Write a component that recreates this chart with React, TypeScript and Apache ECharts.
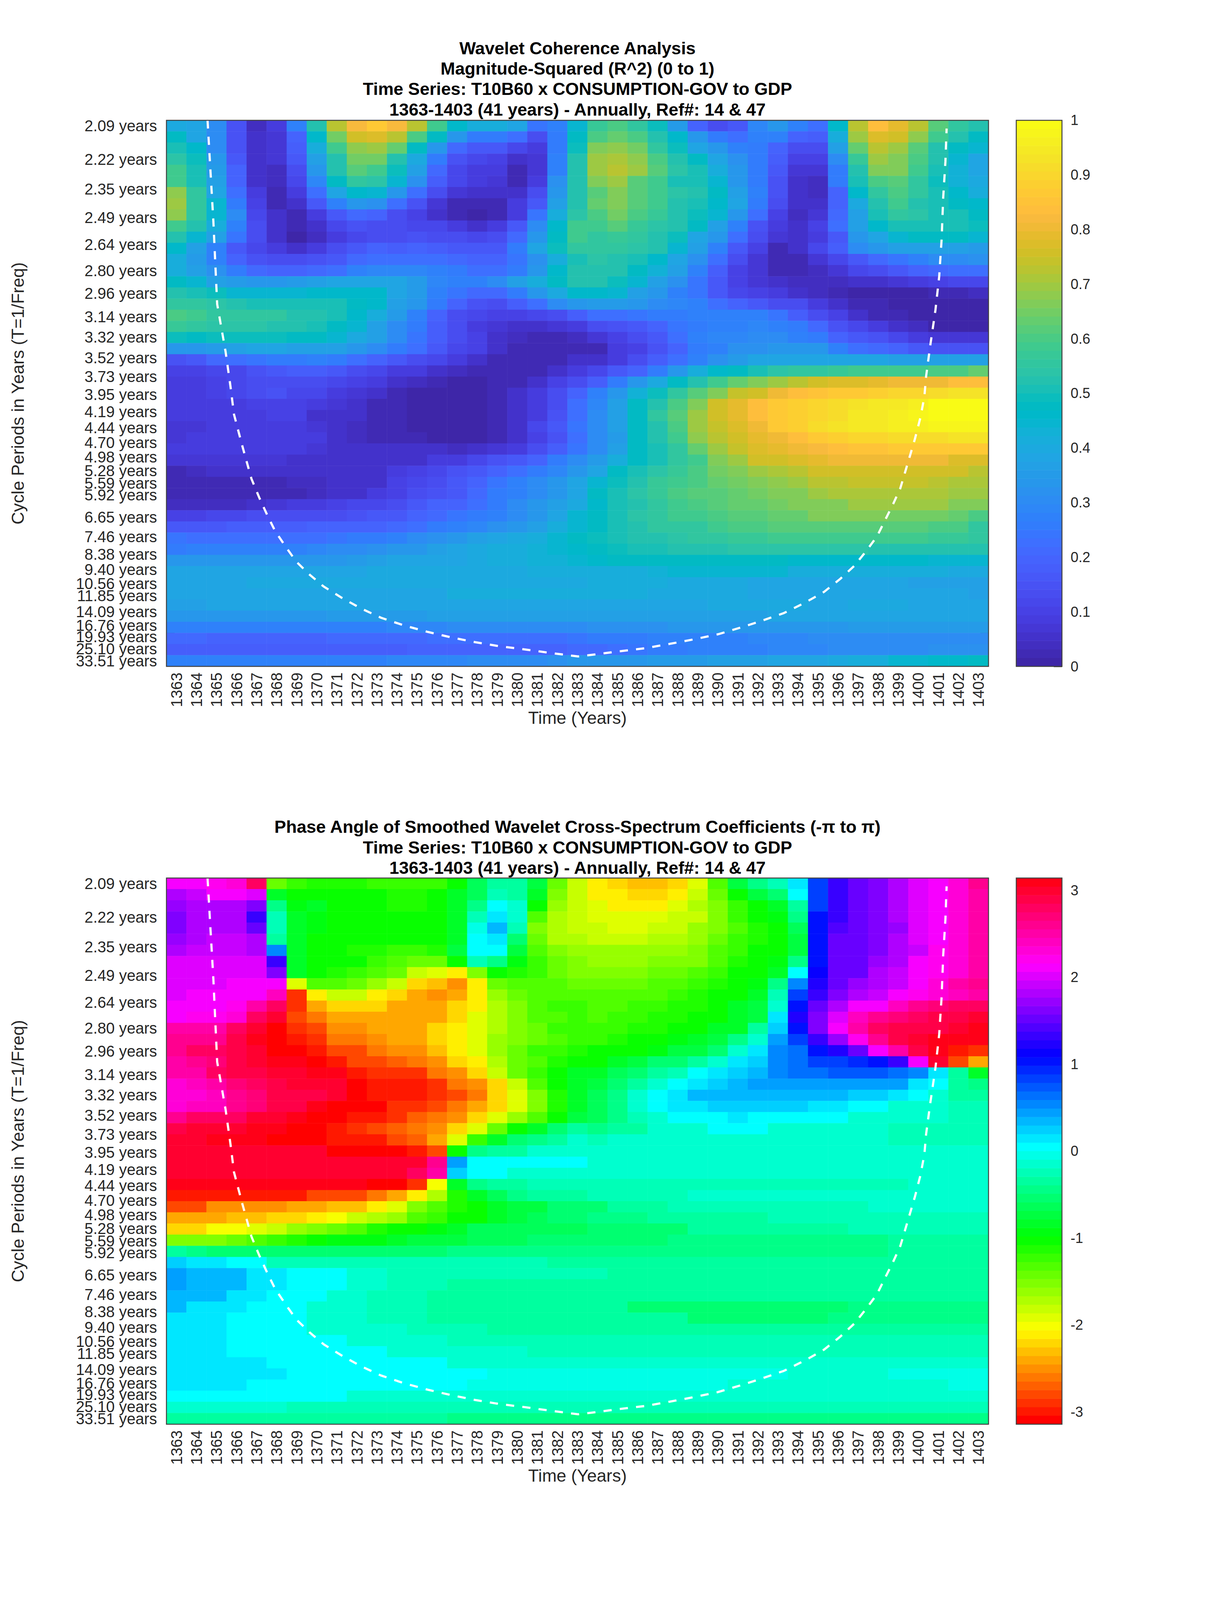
import React, { useEffect, useRef } from "react";
import * as echarts from "echarts";

const years = [1363,1364,1365,1366,1367,1368,1369,1370,1371,1372,1373,1374,1375,1376,1377,1378,1379,1380,1381,1382,1383,1384,1385,1386,1387,1388,1389,1390,1391,1392,1393,1394,1395,1396,1397,1398,1399,1400,1401,1402,1403].map(String);
const labelledPeriods = [2.09,2.22,2.35,2.49,2.64,2.80,2.96,3.14,3.32,3.52,3.73,3.95,4.19,4.44,4.70,4.98,5.28,5.59,5.92,6.65,7.46,8.38,9.40,10.56,11.85,14.09,16.76,19.93,25.10,33.51];
const unlabelledPeriods = [6.27,7.05,7.91,8.88,9.96,11.19,12.55,13.30,14.93,15.82,17.76,18.81,21.10,22.37,23.70,26.60,28.18,29.85,31.60];
const coherenceTicks = [0,0.1,0.2,0.3,0.4,0.5,0.6,0.7,0.8,0.9,1];
const phaseTicks = [-3,-2,-1,0,1,2,3];

const coneYears = [1364.55,1364.84,1365.03,1365.45,1365.69,1365.87,1366.29,1366.74,1367.13,1367.53,1367.92,1368.45,1368.97,1369.64,1370.34,1371.25,1372.2,1373.2,1374.35,1375.54,1376.71,1377.9,1379.07,1380.4,1381.7,1383.03,1383.94,1385.1,1386.4,1387.6,1388.8,1390,1391.15,1392.2,1393.3,1394.36,1395.3,1396.1,1396.8,1397.4,1397.94,1398.33,1398.72,1399.1,1399.35,1399.6,1399.83,1400.1,1400.3,1400.39,1400.6,1400.85,1401.04,1401.16,1401.24,1401.35,1401.41];
const conePeriods = [2.07,2.51,3.04,3.46,3.84,4.23,4.77,5.48,6.0,6.58,7.21,7.97,8.84,9.79,10.85,12.1,13.55,15.15,16.8,18.5,20.2,22.0,23.7,25.4,27.5,29.85,28.3,26.4,24.7,22.7,20.9,19.2,17.3,15.75,14.3,12.7,11.4,10.15,9.14,8.2,7.45,6.78,6.23,5.73,5.3,4.93,4.63,4.28,3.98,3.72,3.39,3.09,2.84,2.61,2.39,2.23,2.10];

const coherenceRows: number[][] = [
[.40,.38,.30,.15,.04,.08,.27,.53,.72,.82,.86,.82,.72,.58,.46,.41,.41,.38,.24,.27,.45,.57,.60,.56,.49,.35,.19,.14,.16,.29,.34,.28,.22,.46,.72,.83,.79,.72,.62,.56,.53],
[.47,.39,.30,.15,.05,.07,.20,.46,.65,.75,.78,.72,.60,.47,.33,.25,.25,.22,.14,.26,.47,.60,.63,.60,.52,.46,.33,.26,.22,.27,.27,.20,.18,.42,.69,.77,.75,.68,.58,.53,.47],
[.51,.46,.31,.15,.05,.07,.18,.41,.58,.68,.70,.63,.48,.33,.21,.16,.16,.12,.09,.25,.49,.66,.68,.65,.56,.49,.38,.33,.28,.26,.20,.14,.14,.36,.63,.72,.70,.62,.52,.48,.44],
[.54,.49,.34,.17,.06,.07,.16,.36,.52,.65,.65,.53,.40,.25,.15,.12,.10,.05,.07,.27,.52,.70,.71,.68,.60,.52,.47,.39,.32,.26,.18,.10,.10,.31,.57,.69,.66,.60,.53,.45,.38],
[.58,.50,.35,.19,.06,.04,.13,.33,.52,.61,.58,.49,.36,.21,.12,.09,.08,.03,.07,.28,.53,.70,.72,.69,.62,.54,.50,.42,.34,.26,.17,.07,.07,.26,.53,.66,.67,.58,.50,.43,.39],
[.58,.50,.36,.19,.06,.04,.12,.29,.47,.55,.54,.45,.32,.18,.11,.08,.07,.03,.08,.32,.53,.66,.69,.62,.59,.51,.50,.45,.33,.26,.15,.06,.04,.25,.50,.60,.62,.55,.49,.43,.40],
[.68,.55,.39,.23,.09,.03,.08,.23,.38,.46,.45,.34,.22,.13,.07,.05,.05,.05,.14,.34,.53,.61,.67,.61,.58,.54,.53,.47,.37,.28,.15,.06,.04,.20,.46,.55,.60,.55,.50,.46,.41],
[.70,.55,.44,.26,.10,.03,.05,.16,.28,.34,.32,.23,.15,.07,.03,.02,.03,.08,.17,.36,.53,.63,.66,.62,.58,.53,.51,.46,.39,.26,.13,.05,.05,.19,.40,.53,.58,.53,.50,.47,.46],
[.68,.56,.45,.30,.11,.05,.03,.08,.16,.21,.19,.14,.10,.05,.03,.01,.03,.09,.24,.42,.54,.60,.65,.60,.57,.53,.49,.44,.34,.22,.10,.04,.07,.21,.37,.50,.55,.54,.50,.50,.48],
[.58,.52,.41,.27,.14,.05,.02,.06,.12,.15,.14,.13,.12,.12,.09,.06,.08,.16,.31,.46,.58,.58,.62,.57,.54,.52,.48,.37,.27,.15,.08,.05,.10,.22,.36,.46,.51,.51,.50,.50,.49],
[.52,.44,.36,.24,.13,.05,.01,.04,.09,.12,.13,.14,.15,.14,.13,.12,.13,.21,.34,.48,.58,.56,.57,.56,.53,.49,.39,.33,.22,.14,.07,.05,.09,.17,.34,.39,.45,.47,.47,.47,.45],
[.46,.36,.28,.16,.12,.09,.06,.08,.13,.16,.19,.18,.19,.18,.17,.17,.17,.26,.38,.49,.55,.56,.56,.54,.52,.45,.36,.27,.17,.10,.03,.06,.12,.18,.30,.34,.36,.37,.37,.37,.35],
[.41,.35,.28,.20,.15,.13,.13,.15,.17,.21,.22,.23,.23,.22,.21,.20,.19,.24,.32,.41,.50,.54,.52,.50,.46,.39,.32,.22,.13,.07,.03,.03,.07,.12,.16,.21,.24,.27,.30,.30,.32],
[.42,.36,.32,.26,.21,.20,.19,.21,.23,.27,.29,.29,.29,.28,.25,.23,.22,.25,.34,.46,.52,.52,.52,.48,.43,.36,.28,.18,.10,.07,.03,.03,.04,.07,.11,.13,.16,.19,.21,.22,.23],
[.47,.44,.37,.35,.33,.33,.35,.37,.38,.39,.39,.39,.35,.29,.27,.27,.31,.37,.42,.48,.52,.52,.49,.45,.36,.32,.24,.16,.10,.07,.05,.04,.04,.04,.05,.06,.07,.09,.10,.11,.12],
[.52,.50,.49,.45,.45,.45,.45,.46,.46,.46,.46,.39,.35,.28,.24,.21,.21,.25,.33,.40,.46,.46,.45,.37,.34,.28,.24,.17,.12,.10,.08,.05,.04,.03,.01,.01,.01,.01,.02,.03,.04],
[.56,.55,.54,.52,.51,.51,.51,.51,.50,.48,.46,.37,.33,.26,.19,.15,.14,.18,.22,.30,.34,.35,.35,.33,.31,.29,.27,.23,.20,.17,.14,.13,.08,.06,.03,.02,.00,.00,.00,.00,.00],
[.60,.58,.56,.55,.55,.55,.53,.53,.50,.46,.41,.35,.27,.20,.14,.12,.10,.10,.12,.14,.18,.22,.23,.24,.26,.26,.27,.28,.28,.27,.24,.18,.13,.10,.06,.03,.02,.00,.00,.00,.00],
[.57,.55,.54,.54,.54,.52,.52,.51,.48,.44,.37,.31,.25,.18,.14,.09,.07,.05,.05,.07,.09,.13,.15,.17,.20,.24,.26,.27,.28,.29,.28,.25,.21,.15,.11,.08,.05,.04,.01,.01,.01],
[.49,.47,.49,.49,.49,.49,.48,.47,.44,.40,.37,.30,.24,.18,.13,.10,.06,.04,.02,.02,.04,.07,.10,.13,.17,.23,.27,.29,.29,.31,.30,.27,.26,.20,.17,.15,.12,.09,.07,.07,.07],
[.33,.34,.35,.37,.38,.38,.37,.37,.36,.33,.30,.26,.22,.17,.11,.10,.05,.03,.02,.02,.02,.03,.08,.10,.15,.20,.26,.28,.32,.32,.33,.33,.33,.27,.23,.21,.19,.17,.15,.15,.15],
[.15,.17,.21,.22,.24,.25,.26,.27,.25,.22,.19,.16,.14,.11,.09,.05,.03,.02,.02,.02,.05,.06,.09,.13,.18,.23,.28,.32,.35,.38,.39,.39,.39,.39,.39,.38,.37,.36,.36,.36,.36],
[.10,.10,.11,.12,.15,.17,.18,.18,.16,.14,.11,.08,.08,.05,.04,.02,.02,.02,.02,.06,.08,.11,.16,.19,.26,.34,.41,.46,.47,.51,.54,.55,.55,.57,.58,.58,.58,.58,.60,.60,.63],
[.09,.09,.10,.11,.13,.13,.13,.13,.11,.10,.08,.05,.04,.03,.01,.01,.02,.03,.06,.10,.14,.18,.26,.33,.40,.47,.53,.58,.63,.66,.69,.73,.75,.77,.78,.79,.80,.80,.81,.83,.83],
[.09,.09,.10,.11,.14,.15,.12,.12,.09,.07,.05,.03,.01,.01,.01,.01,.03,.06,.09,.14,.20,.28,.33,.43,.49,.55,.62,.67,.74,.76,.80,.83,.85,.86,.87,.88,.90,.90,.91,.93,.93],
[.08,.08,.08,.08,.10,.10,.10,.09,.07,.05,.03,.03,.01,.01,.01,.01,.02,.05,.09,.14,.23,.29,.37,.47,.52,.60,.66,.76,.79,.83,.86,.89,.90,.92,.93,.94,.95,.96,.99,.99,.99],
[.08,.08,.08,.08,.08,.10,.10,.06,.06,.05,.03,.02,.01,.01,.01,.01,.02,.05,.09,.15,.23,.30,.36,.47,.55,.62,.69,.76,.79,.83,.86,.89,.90,.92,.94,.95,.96,.97,1,1,1],
[.07,.07,.09,.09,.09,.09,.08,.07,.06,.04,.03,.02,.01,.01,.01,.01,.03,.06,.11,.16,.24,.30,.37,.47,.53,.60,.69,.74,.78,.80,.86,.89,.91,.93,.94,.95,.96,.96,.98,.98,.98],
[.07,.08,.08,.09,.09,.09,.09,.08,.06,.04,.03,.03,.02,.01,.01,.01,.03,.06,.10,.15,.22,.30,.35,.47,.52,.59,.68,.72,.76,.79,.81,.83,.87,.88,.90,.90,.91,.91,.92,.93,.93],
[.08,.08,.09,.09,.09,.09,.09,.07,.06,.05,.05,.05,.05,.05,.04,.05,.07,.09,.14,.18,.24,.30,.37,.47,.51,.56,.64,.69,.74,.78,.79,.80,.82,.84,.85,.85,.86,.86,.86,.86,.86],
[.07,.07,.07,.07,.07,.07,.06,.05,.05,.05,.05,.05,.05,.08,.09,.11,.15,.17,.20,.25,.30,.35,.41,.47,.50,.55,.59,.67,.70,.75,.75,.78,.79,.81,.81,.81,.80,.80,.80,.78,.78],
[.03,.04,.05,.05,.05,.05,.05,.05,.05,.05,.05,.08,.10,.12,.15,.17,.20,.22,.26,.29,.33,.38,.47,.50,.54,.57,.60,.65,.66,.69,.71,.72,.76,.76,.76,.76,.76,.75,.75,.75,.72],
[.02,.02,.02,.02,.02,.02,.04,.04,.05,.05,.06,.10,.12,.14,.17,.20,.24,.27,.30,.33,.38,.45,.49,.53,.57,.58,.60,.64,.65,.66,.68,.70,.73,.73,.74,.74,.74,.74,.72,.71,.71],
[.02,.02,.02,.02,.02,.03,.03,.04,.05,.06,.08,.10,.13,.15,.17,.21,.25,.27,.30,.34,.39,.47,.50,.54,.57,.60,.62,.62,.63,.65,.66,.67,.69,.71,.71,.71,.71,.71,.71,.69,.69],
[.04,.04,.04,.04,.05,.07,.08,.09,.10,.11,.12,.14,.17,.19,.19,.23,.25,.30,.33,.37,.40,.46,.50,.53,.55,.58,.60,.62,.63,.64,.65,.66,.67,.67,.69,.69,.69,.69,.69,.67,.67],
[.10,.10,.12,.12,.13,.13,.14,.14,.14,.15,.16,.17,.19,.21,.24,.26,.28,.30,.33,.38,.44,.47,.51,.54,.56,.58,.58,.60,.62,.62,.64,.64,.66,.66,.66,.66,.65,.65,.65,.64,.60],
[.17,.17,.17,.18,.18,.18,.18,.19,.19,.19,.20,.21,.22,.25,.27,.29,.32,.34,.37,.41,.44,.48,.50,.53,.55,.56,.56,.58,.60,.60,.61,.61,.62,.62,.62,.62,.62,.61,.60,.60,.56],
[.24,.22,.23,.23,.23,.23,.23,.23,.24,.25,.26,.28,.30,.32,.33,.36,.38,.40,.42,.44,.47,.49,.51,.52,.53,.54,.55,.56,.57,.57,.58,.58,.58,.58,.58,.58,.58,.58,.57,.57,.55],
[.26,.28,.28,.28,.28,.28,.28,.29,.30,.31,.32,.33,.34,.36,.38,.40,.41,.42,.43,.44,.46,.47,.49,.50,.51,.52,.52,.53,.54,.54,.54,.54,.54,.54,.54,.53,.53,.53,.52,.52,.52],
[.33,.33,.33,.33,.33,.33,.33,.34,.34,.35,.36,.38,.38,.39,.39,.40,.41,.42,.43,.43,.45,.46,.47,.47,.47,.47,.47,.47,.47,.47,.47,.46,.46,.46,.46,.46,.46,.46,.45,.45,.45],
[.39,.39,.39,.39,.39,.39,.39,.39,.39,.39,.40,.40,.40,.40,.40,.40,.40,.40,.41,.42,.42,.42,.42,.42,.43,.44,.44,.44,.44,.44,.44,.42,.42,.41,.41,.41,.41,.41,.41,.40,.40],
[.39,.39,.39,.39,.40,.40,.40,.40,.40,.40,.40,.40,.40,.40,.40,.40,.40,.40,.40,.40,.40,.41,.41,.41,.41,.40,.40,.40,.40,.39,.39,.39,.39,.38,.38,.38,.38,.37,.36,.36,.37],
[.38,.38,.38,.39,.39,.39,.39,.39,.39,.39,.39,.39,.39,.39,.41,.41,.41,.41,.41,.41,.41,.41,.41,.41,.40,.40,.40,.40,.40,.39,.39,.39,.39,.39,.39,.38,.38,.38,.38,.38,.36],
[.37,.37,.38,.38,.38,.38,.38,.38,.38,.38,.38,.38,.38,.38,.39,.39,.39,.39,.39,.39,.39,.39,.39,.39,.39,.39,.39,.40,.40,.40,.40,.40,.39,.39,.40,.40,.40,.39,.39,.39,.39],
[.34,.34,.34,.34,.34,.34,.34,.34,.35,.35,.35,.35,.35,.36,.36,.36,.36,.36,.36,.36,.36,.36,.36,.36,.37,.37,.37,.37,.37,.37,.38,.38,.38,.38,.38,.38,.38,.39,.38,.38,.38],
[.28,.28,.28,.28,.28,.28,.28,.28,.28,.28,.28,.29,.29,.29,.30,.30,.30,.30,.31,.31,.31,.32,.32,.32,.32,.33,.33,.33,.33,.34,.34,.34,.34,.34,.35,.35,.35,.35,.35,.35,.35],
[.21,.21,.19,.19,.19,.19,.19,.19,.21,.21,.21,.21,.21,.22,.22,.22,.22,.23,.23,.23,.24,.25,.25,.26,.27,.27,.27,.28,.28,.29,.29,.29,.30,.30,.30,.30,.31,.31,.31,.31,.31],
[.18,.18,.18,.18,.18,.18,.18,.18,.18,.18,.18,.18,.19,.19,.19,.19,.19,.19,.20,.20,.21,.21,.23,.24,.25,.26,.27,.27,.28,.28,.29,.29,.29,.30,.30,.30,.30,.31,.32,.32,.32],
[.27,.27,.27,.27,.28,.28,.28,.28,.28,.28,.28,.29,.29,.29,.29,.30,.30,.30,.30,.32,.33,.33,.33,.34,.35,.35,.35,.36,.37,.37,.38,.38,.39,.40,.41,.42,.44,.45,.46,.46,.47],
];

const phaseUpperRows: number[][] = [
[2.09,2.09,2.25,2.35,2.75,-1.45,-1.2,-1.1,-1.1,-1.15,-1.2,-1.2,-1.2,-1.2,-1.0,-.6,-.35,-.35,-.7,-1.45,-1.83,-2.09,-2.2,-2.3,-2.3,-2.18,-1.95,-1.3,-.75,-.45,-.25,.13,.8,1.3,1.5,1.65,1.8,2.0,2.15,2.35,2.6],
[1.85,1.95,2.09,2.09,1.97,-.85,-1.05,-1.05,-1.05,-1.05,-1.05,-1.15,-1.15,-1.05,-.85,-.6,-.28,-.3,-.8,-1.5,-1.85,-2.09,-2.09,-2.2,-2.2,-2.09,-1.85,-1.4,-1.05,-.75,-.52,0,.8,1.3,1.5,1.65,1.8,2.0,2.15,2.35,2.55],
[1.7,1.85,1.85,1.85,1.6,-.45,-.9,-.85,-1.05,-1.05,-1.05,-1.08,-1.15,-1.05,-.8,-.45,0,-.1,-1.05,-1.65,-1.85,-1.95,-2.09,-2.09,-2.09,-1.95,-1.75,-1.55,-1.2,-1.05,-.8,-.3,.8,1.3,1.5,1.65,1.8,2.0,2.15,2.35,2.55],
[1.65,1.85,1.85,1.85,1.35,-.2,-.8,-.9,-1.03,-1.03,-1.05,-1.05,-1.05,-1.05,-.8,-.25,.18,-.1,-1.3,-1.75,-1.85,-1.95,-1.95,-1.95,-1.95,-1.85,-1.8,-1.55,-1.25,-1.05,-.9,-.45,1.0,1.3,1.5,1.65,1.8,2.0,2.15,2.35,2.55],
[1.65,1.85,1.85,1.85,1.55,-.2,-.8,-.9,-1.03,-1.03,-1.05,-1.05,-1.05,-1.05,-.8,-.05,.3,-.2,-1.55,-1.75,-1.85,-1.85,-1.95,-1.95,-1.85,-1.8,-1.6,-1.5,-1.3,-1.15,-1.03,-.6,1.05,1.4,1.5,1.65,1.75,2.0,2.15,2.35,2.55],
[1.75,1.8,1.95,1.95,1.8,-.35,-.85,-1.0,-1.05,-1.07,-1.07,-1.05,-1.05,-1.05,-.8,0,.18,-.55,-1.45,-1.75,-1.75,-1.8,-1.8,-1.8,-1.7,-1.7,-1.6,-1.4,-1.25,-1.15,-1.05,-.7,1.05,1.5,1.55,1.65,1.8,2.0,2.15,2.35,2.55],
[1.8,1.95,1.95,1.95,1.85,.55,-.85,-1.05,-1.05,-1.1,-1.1,-1.2,-1.2,-1.1,-.75,0,0,-.75,-1.35,-1.55,-1.65,-1.65,-1.65,-1.65,-1.6,-1.6,-1.55,-1.35,-1.25,-1.05,-1.05,-.75,1.05,1.5,1.55,1.65,1.8,1.95,2.2,2.35,2.55],
[2.0,2.0,2.0,2.0,2.0,1.35,-.85,-1.05,-1.07,-1.07,-1.2,-1.3,-1.4,-1.4,-1.07,-.25,-.4,-.9,-1.25,-1.4,-1.55,-1.6,-1.6,-1.6,-1.55,-1.55,-1.5,-1.3,-1.15,-1.05,-.9,-.4,1.05,1.5,1.55,1.7,1.8,2.09,2.2,2.3,2.55],
[2.0,2.0,2.0,2.0,2.0,1.6,-.85,-1.05,-1.15,-1.25,-1.35,-1.45,-1.8,-1.95,-2.15,-1.5,-1.05,-1.1,-1.2,-1.4,-1.5,-1.5,-1.5,-1.5,-1.4,-1.4,-1.35,-1.2,-1.05,-1.05,-.8,.08,1.15,1.5,1.55,1.85,1.95,2.09,2.25,2.35,2.55],
[2.0,2.0,2.0,2.09,2.09,2.09,-1.95,-1.35,-1.35,-1.45,-1.65,-1.85,-2.18,-2.35,-2.5,-2.09,-1.45,-1.35,-1.35,-1.32,-1.42,-1.4,-1.4,-1.4,-1.3,-1.3,-1.2,-1.1,-1.05,-.9,-.45,.5,1.25,1.5,1.7,1.85,1.95,2.12,2.3,2.5,2.6],
[2.0,2.09,2.09,2.09,2.09,2.4,-2.9,-2.09,-1.85,-1.85,-2.09,-2.18,-2.36,-2.5,-2.36,-2.09,-1.6,-1.4,-1.35,-1.3,-1.3,-1.3,-1.3,-1.3,-1.3,-1.2,-1.1,-1.05,-1.05,-.85,-.25,.8,1.35,1.6,1.85,1.95,2.09,2.25,2.35,2.45,2.55],
[2.09,2.09,2.12,2.25,2.5,2.8,-2.9,-2.45,-2.25,-2.25,-2.25,-2.36,-2.36,-2.36,-2.25,-2.09,-1.7,-1.5,-1.35,-1.25,-1.25,-1.3,-1.3,-1.2,-1.2,-1.12,-1.1,-1.05,-.85,-.7,-.1,1.0,1.5,1.85,2.09,2.15,2.45,2.6,2.7,2.8,2.75],
[2.09,2.2,2.25,2.35,2.8,3.0,-2.8,-2.6,-2.45,-2.36,-2.36,-2.36,-2.36,-2.36,-2.18,-1.95,-1.7,-1.5,-1.35,-1.35,-1.25,-1.3,-1.2,-1.2,-1.1,-1.1,-1.05,-1.05,-.85,-.7,.1,1.2,1.6,2.0,2.4,2.6,2.7,2.8,2.85,2.85,2.95],
[2.5,2.55,2.55,2.8,3.0,-3.14,-2.85,-2.75,-2.55,-2.55,-2.45,-2.45,-2.36,-2.2,-2.12,-1.95,-1.7,-1.5,-1.4,-1.25,-1.25,-1.2,-1.2,-1.1,-1.1,-1.05,-1.05,-.85,-.8,-.3,.25,1.05,1.6,2.09,2.5,2.75,2.85,2.85,2.85,2.95,3.05],
[2.6,2.65,2.65,2.85,3.05,-3.14,-2.95,-2.85,-2.6,-2.6,-2.5,-2.4,-2.4,-2.25,-2.12,-1.95,-1.6,-1.5,-1.4,-1.3,-1.2,-1.2,-1.15,-1.05,-1.05,-.95,-.85,-.7,-.4,-.1,.4,.8,1.3,1.75,2.2,2.6,2.85,2.95,3.1,3.14,3.14],
[2.65,2.75,2.8,2.9,3.0,-3.14,-3.05,-2.95,-2.8,-2.75,-2.6,-2.5,-2.5,-2.35,-2.12,-1.95,-1.6,-1.4,-1.25,-1.2,-1.1,-1.07,-1.07,-1.07,-.95,-.75,-.7,-.5,-.1,.1,.5,.65,1.0,1.2,1.5,2.1,2.55,2.9,3.1,-3.0,-2.9],
[2.55,2.65,2.7,2.9,2.95,3.05,3.14,-3.05,-2.95,-2.8,-2.8,-2.7,-2.6,-2.5,-2.2,-2.09,-1.75,-1.4,-1.3,-1.15,-1.05,-1.05,-.85,-.7,-.55,-.5,-.3,-.1,.1,.2,.5,.6,.85,.8,.9,1.05,1.35,2.09,3.0,-2.8,-2.45],
[2.5,2.55,2.75,2.85,2.9,2.95,3.0,3.14,3.14,-3.0,-2.9,-2.9,-2.85,-2.65,-2.5,-2.2,-1.85,-1.45,-1.2,-1.0,-.85,-.85,-.65,-.55,-.35,-.25,0,.1,.25,.35,.5,.6,.6,.7,.7,.7,.6,.5,.1,-.35,-.8],
[2.35,2.4,2.5,2.7,2.8,2.9,2.95,3.0,3.0,-3.14,-3.0,-3.0,-2.95,-2.85,-2.65,-2.5,-2.18,-1.8,-1.3,-1.0,-.8,-.7,-.5,-.35,-.15,0,.1,.2,.35,.45,.45,.45,.45,.45,.45,.4,.4,.1,0,-.3,-.4],
[2.3,2.35,2.45,2.6,2.7,2.85,2.88,2.9,3.0,-3.14,-3.0,-3.0,-2.95,-2.85,-2.75,-2.6,-2.25,-1.95,-1.5,-1.1,-.8,-.65,-.4,-.1,0,.15,.35,.35,.35,.35,.35,.35,.35,.35,.25,.25,.12,0,-.15,-.3,-.3],
[2.35,2.4,2.45,2.6,2.7,2.9,2.9,3.05,-3.14,-3.14,-3.05,-2.9,-2.85,-2.75,-2.6,-2.45,-2.2,-1.95,-1.55,-1.1,-.8,-.6,-.4,-.1,0,.15,.15,.25,.25,.25,.25,.25,.12,.12,0,0,-.1,-.15,-.15,-.25,-.25],
[2.65,2.75,2.8,2.8,2.95,2.95,3.05,-3.14,-3.14,-3.0,-2.95,-2.85,-2.7,-2.6,-2.5,-2.25,-1.95,-1.65,-1.3,-1.05,-.75,-.6,-.4,-.25,-.1,0,0,0,.1,0,0,0,0,0,-.1,-.1,-.1,-.15,-.15,-.2,-.2],
[2.85,2.95,3.0,3.0,3.05,3.1,-3.14,-3.14,-3.0,-2.9,-2.8,-2.7,-2.6,-2.5,-2.25,-1.95,-1.45,-1.05,-.8,-.5,-.3,-.4,-.3,-.3,-.12,-.12,-.12,0,0,0,-.1,-.1,-.1,-.1,-.1,-.1,-.2,-.2,-.2,-.2,-.2],
];

// Lower phase rows as [last column of the run, value] pairs.
const phaseLowerRuns: number[][][] = [
[[1,3.0],[4,3.1],[7,-3.14],[9,-3.0],[10,-2.95],[11,-2.8],[12,-2.7],[13,-2.45],[14,-1.95],[15,-1.25],[16,-.85],[17,-.55],[18,-.4],[19,-.3],[20,-.12],[21,-.2],[35,-.1],[40,-.2]],
[[7,3.0],[10,-3.14],[11,-3.05],[12,-2.95],[13,-2.75],[14,-1.05],[15,-.45],[17,-.3],[40,-.13]],
[[1,3.0],[12,2.95],[13,2.6],[14,.42],[20,0],[40,-.1]],
[[1,3.0],[11,2.95],[12,2.8],[13,2.55],[14,.25],[16,0],[40,-.1]],
[[9,3.14],[11,-3.05],[12,-2.85],[13,-2.05],[14,-.8],[15,-.45],[17,-.3],[36,-.2],[40,-.1]],
[[6,-2.95],[8,-2.8],[9,-2.75],[10,-2.6],[11,-2.45],[12,-2.15],[13,-1.75],[14,-1.1],[15,-.8],[16,-.6],[17,-.45],[20,-.35],[25,-.25],[40,-.13]],
[[1,-2.75],[5,-2.55],[7,-2.45],[8,-2.35],[9,-2.3],[10,-2.1],[11,-1.9],[12,-1.5],[13,-1.35],[14,-1.15],[15,-1.05],[16,-.85],[17,-.75],[18,-.7],[21,-.5],[24,-.35],[34,-.25],[40,-.18]],
[[2,-2.45],[4,-2.3],[6,-2.2],[7,-2.1],[8,-2.05],[9,-1.85],[10,-1.75],[11,-1.6],[12,-1.35],[13,-1.2],[14,-1.05],[15,-1.0],[16,-.85],[17,-.7],[18,-.65],[20,-.55],[23,-.42],[29,-.33],[40,-.25]],
[[1,-2.2],[3,-2.05],[4,-1.9],[5,-1.8],[6,-1.65],[7,-1.55],[8,-1.4],[9,-1.3],[10,-1.15],[11,-1.05],[12,-1.03],[13,-.95],[14,-.8],[16,-.65],[20,-.6],[25,-.5],[33,-.38],[40,-.28]],
[[2,-1.55],[3,-1.4],[4,-1.3],[5,-1.25],[6,-1.1],[7,-1.05],[9,-.95],[10,-.9],[11,-.85],[14,-.75],[17,-.65],[24,-.5],[35,-.42],[40,-.33]],
[[0,-.3],[1,-.4],[13,-.52],[35,-.42],[40,-.38]],
[[0,.25],[2,.12],[4,0],[11,-.2],[18,-.28],[33,-.38],[40,-.3]],
[[0,.42],[3,.3],[5,.15],[8,0],[10,-.12],[14,-.2],[21,-.28],[33,-.38],[40,-.3]],
[[0,.42],[3,.3],[5,.15],[8,0],[10,-.1],[13,-.2],[18,-.3],[40,-.38]],
[[2,.3],[4,.15],[7,0],[9,-.13],[12,-.2],[16,-.3],[38,-.38],[40,-.3]],
[[0,.3],[3,.12],[6,0],[9,-.1],[12,-.2],[15,-.3],[22,-.38],[33,-.5],[40,-.42]],
[[2,.12],[6,0],[9,-.1],[12,-.2],[17,-.3],[25,-.38],[32,-.52],[40,-.42]],
[[2,.12],[6,0],[11,-.1],[15,-.2],[22,-.3],[37,-.38],[40,-.3]],
[[2,.12],[8,0],[13,-.1],[20,-.2],[40,-.28]],
[[2,.12],[10,0],[17,-.1],[40,-.2]],
[[4,.12],[13,0],[23,-.1],[40,-.17]],
[[5,.12],[15,0],[30,-.08],[35,-.15],[40,-.08]],
[[3,.12],[14,0],[27,-.08],[38,-.13],[40,-.08]],
[[8,0],[17,-.1],[40,-.13]],
[[5,-.1],[15,-.2],[40,-.22]],
[[2,-.3],[13,-.33],[40,-.4]],
];

const parula: number[][] = [
[.2422,.1504,.6603],[.2504,.1650,.7076],[.2578,.1818,.7511],[.2647,.1978,.7952],[.2706,.2147,.8364],[.2751,.2342,.8710],[.2783,.2559,.8991],[.2803,.2782,.9221],
[.2813,.3006,.9414],[.2810,.3228,.9579],[.2795,.3447,.9717],[.2760,.3667,.9829],[.2699,.3892,.9906],[.2602,.4123,.9952],[.2440,.4358,.9988],[.2206,.4603,.9973],
[.1963,.4847,.9892],[.1834,.5074,.9798],[.1786,.5289,.9682],[.1764,.5499,.9520],[.1687,.5703,.9359],[.1540,.5902,.9218],[.1460,.6091,.9079],[.1380,.6276,.8973],
[.1248,.6459,.8883],[.1113,.6635,.8763],[.0952,.6798,.8598],[.0689,.6948,.8394],[.0297,.7082,.8163],[.0036,.7203,.7917],[.0067,.7312,.7660],[.0433,.7411,.7394],
[.0964,.7500,.7120],[.1408,.7584,.6842],[.1717,.7670,.6554],[.1938,.7758,.6251],[.2161,.7843,.5923],[.2470,.7918,.5567],[.2906,.7973,.5188],[.3406,.8008,.4789],
[.3909,.8029,.4354],[.4456,.8024,.3909],[.5044,.7993,.3480],[.5616,.7942,.3045],[.6174,.7876,.2612],[.6720,.7793,.2227],[.7242,.7698,.1910],[.7738,.7598,.1646],
[.8203,.7498,.1535],[.8634,.7406,.1596],[.9035,.7330,.1774],[.9393,.7288,.2100],[.9728,.7298,.2394],[.9956,.7434,.2371],[.9970,.7659,.2199],[.9952,.7893,.2028],
[.9892,.8136,.1885],[.9786,.8386,.1766],[.9676,.8639,.1643],[.9610,.8890,.1537],[.9597,.9135,.1423],[.9628,.9373,.1265],[.9691,.9606,.1064],[.9769,.9839,.0805],
];

const FONT = '"Liberation Sans", Arial, sans-serif';
const INK = "#262626";
const BANDS = 64;
const FULL_HEIGHT = 6252;

const toCss = (c: number[]) => `rgb(${c.map((v) => Math.round(v * 255)).join(",")})`;
const parulaColors = parula.map(toCss);
const hsvColors = Array.from({ length: BANDS }, (_, i) => {
  const h = (i / BANDS) * 6;
  const x = 1 - Math.abs((h % 2) - 1);
  const sector = Math.floor(h);
  const rgb = [[1, x, 0], [x, 1, 0], [0, 1, x], [0, x, 1], [x, 0, 1], [1, 0, x]][sector];
  return toCss(rgb);
});

const expandRuns = (runs: number[][]) => {
  const row: number[] = [];
  runs.forEach(([last, value]) => {
    while (row.length <= last) row.push(value);
  });
  return row;
};
const phaseRows = [...phaseUpperRows, ...phaseLowerRuns.map(expandRuns)];

const rowNames = coherenceRows.map((_, i) => String(i));
const allPeriods = [...labelledPeriods, ...unlabelledPeriods];
const cone = coneYears.map((y, i) => [y, 1 / conePeriods[i]]);

const PLOT_LEFT = 426;
const PLOT_WIDTH = 2104;
const BAR_LEFT = 2601;
const BAR_WIDTH = 117;
const FREQ_MIN = 0.02517;
const FREQ_MAX = 0.48314;

// k maps the reference's vertical geometry onto the height of the window that
// is really available (1 when the window is the full 6252 px tall).
function buildOption(k: number) {
  const fs = Math.pow(k, 0.85);
  const plotHeight = 2134 * k;
  const tickFont = 57 * fs;
  const nameFont = 64 * fs;
  const titleFont = 64 * fs;
  const barFont = 52 * fs;

  const grid: any[] = [];
  const xAxis: any[] = [];
  const yAxis: any[] = [];
  const series: any[] = [];
  const visualMap: any[] = [];
  const graphic: any[] = [];

  const tickStyle = { color: INK, width: 2.5 };
  const periodLabel = (periods: number[]) => ({
    show: true, margin: 24, fontFamily: FONT, fontSize: tickFont, color: INK,
    showMinLabel: true, showMaxLabel: true,
    customValues: periods.map((p) => 1 / p),
    formatter: (v: number) => `${(1 / v).toFixed(2)} years`,
  });

  const addPanel = (
    top: number,
    rows: number[][],
    colors: string[],
    lo: number,
    hi: number,
    barTicks: number[],
    titleLines: string[],
    titleYs: number[],
  ) => {
    const gi = grid.length;
    grid.push({ left: PLOT_LEFT, top, width: PLOT_WIDTH, height: plotHeight });
    grid.push({ left: BAR_LEFT, top, width: BAR_WIDTH, height: plotHeight });

    const x0 = xAxis.length;
    const y0 = yAxis.length;
    xAxis.push(
      {
        type: "category", gridIndex: gi, position: "bottom", data: years,
        name: "Time (Years)", nameLocation: "middle", nameGap: 201 * k - nameFont / 2,
        nameTextStyle: { fontFamily: FONT, fontSize: nameFont, color: INK },
        axisLine: { show: false },
        axisTick: { show: true, inside: true, length: 21 * k, alignWithLabel: true, interval: 0, lineStyle: tickStyle },
        axisLabel: { show: true, rotate: 90, interval: 0, margin: 24 * k, fontFamily: FONT, fontSize: tickFont, color: INK },
        splitLine: { show: false },
      },
      { type: "value", gridIndex: gi, show: false, min: 1362.5, max: 1403.5, splitLine: { show: false } },
      {
        type: "category", gridIndex: gi, position: "top", data: years,
        axisLine: { show: false },
        axisTick: { show: true, inside: true, length: 21 * k, alignWithLabel: true, interval: 0, lineStyle: tickStyle },
        axisLabel: { show: false },
      },
      { type: "category", gridIndex: gi + 1, show: false, data: ["bar"] },
    );
    yAxis.push(
      { type: "category", gridIndex: gi, show: false, inverse: true, data: rowNames },
      {
        type: "value", gridIndex: gi, position: "left", min: FREQ_MIN, max: FREQ_MAX,
        name: "Cycle Periods in Years (T=1/Freq)", nameLocation: "middle", nameGap: 380 - nameFont / 2, nameRotate: 90,
        nameTextStyle: { fontFamily: FONT, fontSize: nameFont, color: INK },
        axisLine: { show: false },
        splitLine: { show: false },
        axisTick: { show: true, inside: true, length: 21, lineStyle: tickStyle, customValues: allPeriods.map((p) => 1 / p) },
        axisLabel: periodLabel(labelledPeriods.filter((_, i) => i % 2 === 1)),
      },
      {
        type: "value", gridIndex: gi, position: "right", min: FREQ_MIN, max: FREQ_MAX,
        axisLine: { show: false },
        splitLine: { show: false },
        axisTick: { show: true, inside: true, length: 21, lineStyle: tickStyle, customValues: allPeriods.map((p) => 1 / p) },
        axisLabel: { show: false },
      },
      { type: "category", gridIndex: gi + 1, show: false, data: colors.map((_, i) => String(i)) },
      {
        type: "value", gridIndex: gi + 1, position: "right", min: lo, max: hi,
        axisLine: { show: false },
        splitLine: { show: false },
        axisTick: { show: true, inside: true, length: 21, lineStyle: tickStyle, customValues: barTicks },
        axisLabel: { show: true, margin: 22, fontFamily: FONT, fontSize: barFont, color: INK, showMinLabel: true, showMaxLabel: true, customValues: barTicks, formatter: (v: number) => String(v) },
      },
      {
        // Second label carrier: ECharts drops a label that crowds the end label,
        // so the closely spaced period labels alternate between two left axes.
        type: "value", gridIndex: gi, position: "left", offset: 0, min: FREQ_MIN, max: FREQ_MAX,
        axisLine: { show: false },
        splitLine: { show: false },
        axisTick: { show: false },
        axisLabel: periodLabel(labelledPeriods.filter((_, i) => i % 2 === 0)),
      },
    );

    const step = (hi - lo) / BANDS;
    const s0 = series.length;
    const cells: number[][] = [];
    rows.forEach((row, r) => row.forEach((v, c) => cells.push([c, r, v])));
    series.push({
      type: "heatmap", xAxisIndex: x0, yAxisIndex: y0, data: cells, progressive: 0, silent: true,
      emphasis: { disabled: true },
    });
    series.push({
      type: "heatmap", xAxisIndex: x0 + 3, yAxisIndex: y0 + 3,
      data: colors.map((_, i) => [0, i, lo + (i + 0.5) * step]), progressive: 0, silent: true,
      emphasis: { disabled: true },
    });
    series.push({
      type: "line", xAxisIndex: x0 + 1, yAxisIndex: y0 + 1, data: cone, symbol: "none", silent: true, z: 10,
      lineStyle: { color: "#ffffff", width: 8 * fs, type: [32 * k, 32 * k], cap: "butt" },
    });
    visualMap.push({
      type: "piecewise", show: false, dimension: 2, seriesIndex: [s0, s0 + 1],
      pieces: colors.map((color, i) => ({
        gte: i === 0 ? lo - 1 : lo + i * step,
        lt: i === BANDS - 1 ? hi + 1 : lo + (i + 1) * step,
        color,
      })),
    });

    [[PLOT_LEFT, PLOT_WIDTH], [BAR_LEFT, BAR_WIDTH]].forEach(([x, width]) => {
      graphic.push({
        type: "rect", z: 100, silent: true,
        shape: { x, y: top, width, height: plotHeight },
        style: { fill: "transparent", stroke: "#404040", lineWidth: 2.5 },
      });
    });
    titleLines.forEach((text, i) => {
      graphic.push({
        type: "text", z: 100, silent: true, x: PLOT_LEFT + PLOT_WIDTH / 2, y: titleYs[i] * k,
        style: { text, font: `bold ${titleFont}px ${FONT}`, fill: "#000000", textAlign: "center", textVerticalAlign: "middle" },
      });
    });
  };

  addPanel(470 * k, coherenceRows, parulaColors, 0, 1, coherenceTicks,
    ["Wavelet Coherence Analysis", "Magnitude-Squared (R^2) (0 to 1)", "Time Series: T10B60 x CONSUMPTION-GOV to GDP", "1363-1403 (41 years) - Annually, Ref#: 14 & 47"],
    [188, 268, 348, 428]);
  addPanel(3431 * k, phaseRows, hsvColors, -Math.PI, Math.PI, phaseTicks,
    ["Phase Angle of Smoothed Wavelet Cross-Spectrum Coefficients (-π to π)", "Time Series: T10B60 x CONSUMPTION-GOV to GDP", "1363-1403 (41 years) - Annually, Ref#: 14 & 47"],
    [3230, 3311, 3391]);

  return { animation: false, backgroundColor: "#ffffff", grid, xAxis, yAxis, series, visualMap, graphic, tooltip: { show: false } };
}

export default function App() {
  const ref = useRef<HTMLDivElement>(null);
  const height = Math.min(FULL_HEIGHT, window.innerHeight || FULL_HEIGHT);
  useEffect(() => {
    document.body.style.margin = "0";
    const chart = echarts.init(ref.current!, undefined, { renderer: "svg" });
    chart.setOption(buildOption(height / FULL_HEIGHT) as any);
    return () => chart.dispose();
  }, [height]);
  return <div ref={ref} style={{ display: "block", width: 3125, height }} />;
}
